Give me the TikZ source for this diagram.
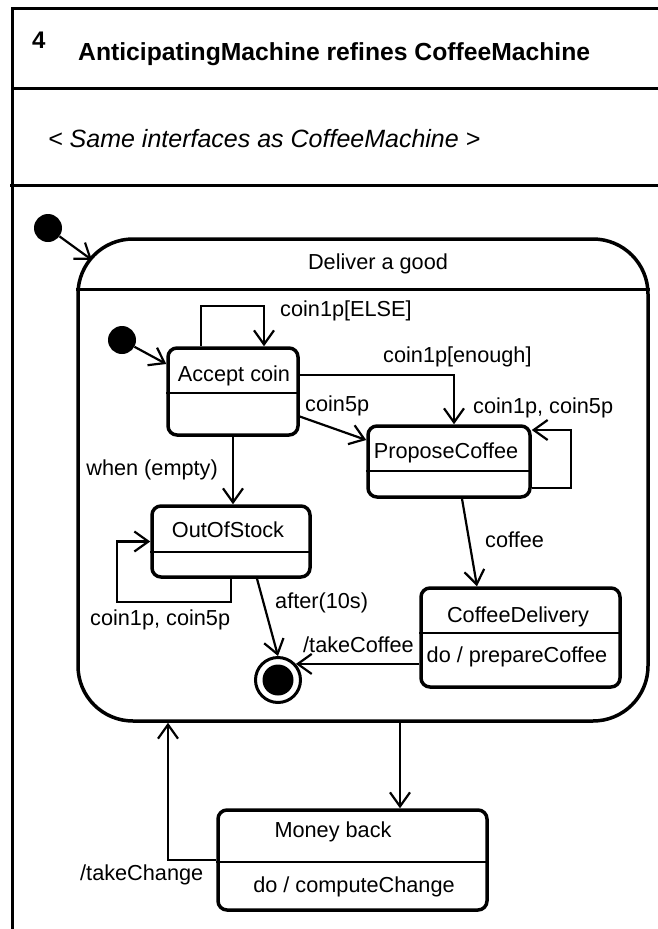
\documentclass[tikz,border=0pt]{standalone}
\usepackage{fontspec}
\setmainfont{Liberation Sans}
\usetikzlibrary{arrows.meta}

\tikzset{
  statebox/.style={draw, line width=3.5pt, rounded corners=9pt, inner sep=0pt},
  trans/.style={line width=2.2pt, -{Straight Barb[length=14pt,width=20pt,line width=2.2pt]}},
  lbl/.style={inner sep=0pt, font=\fontsize{21.7}{26}\selectfont},
  initdot/.style={circle, fill, inner sep=0pt, minimum size=28pt},
}

\begin{document}
\begin{tikzpicture}[x=1pt,y=-1pt]

  \useasboundingbox (0,0) rectangle (657,929);

  % Frame and header compartments
  \draw[line width=3pt] (12,929) -- (12,8) -- (660,8);
  \draw[line width=3pt] (12,88) -- (660,88);
  \draw[line width=3pt] (10,185) -- (660,185);
  \node[inner sep=0pt, anchor=base west, font=\fontsize{24}{28}\selectfont\bfseries] (number) at (32,48) {4};
  \node[inner sep=0pt, anchor=base west, font=\fontsize{24.7}{28}\selectfont\bfseries] (title) at (78,60)
    {AnticipatingMachine refines CoffeeMachine};
  \node[inner sep=0pt, anchor=base west, font=\fontsize{25}{28}\selectfont\itshape] (interfaces) at (48,147)
    {< Same interfaces as CoffeeMachine >};

  % Superstate
  \node[draw, line width=3.5pt, rounded corners=55pt, inner sep=0pt,
        minimum width=570pt, minimum height=482pt] (deliver) at (363,480) {};
  \draw[line width=3pt] (deliver.west |- 0,289) -- (deliver.east |- 0,289);
  \node[lbl] (delivertxt) at (378,264) {Deliver a good};

  \node[initdot] (start) at (48,228) {};
  \coordinate (deliverentry) at (92,260);
  \draw[trans] (start) -- (deliverentry);

  % States
  \node[statebox, minimum width=130pt, minimum height=87pt] (acceptcoin) at (233,391.5) {};
  \draw[line width=2.2pt] (acceptcoin.west |- 0,393) -- (acceptcoin.east |- 0,393);
  \node[lbl] (accepttxt) at (234,376) {Accept coin};

  \node[statebox, minimum width=162pt, minimum height=71pt] (proposecoffee) at (449,461.5) {};
  \draw[line width=2.2pt] (proposecoffee.west |- 0,471) -- (proposecoffee.east |- 0,471);
  \node[lbl] (proposetxt) at (446,453) {ProposeCoffee};

  \node[statebox, minimum width=158pt, minimum height=71pt] (outofstock) at (231,541.5) {};
  \draw[line width=2.2pt] (outofstock.west |- 0,552) -- (outofstock.east |- 0,552);
  \node[lbl] (outtxt) at (228,530) {OutOfStock};

  \node[statebox, minimum width=199pt, minimum height=99pt] (coffeedelivery) at (520.5,637.5) {};
  \draw[line width=2.2pt] (coffeedelivery.west |- 0,633) -- (coffeedelivery.east |- 0,633);
  \node[lbl] (deliverytxt) at (518,617) {CoffeeDelivery};
  \node[lbl] (deliverydo) at (517,657) {do / prepareCoffee};

  \node[statebox, minimum width=269pt, minimum height=100pt] (moneyback) at (352.5,860) {};
  \draw[line width=2.2pt] (moneyback.west |- 0,862) -- (moneyback.east |- 0,862);
  \node[lbl] (moneytxt) at (333,832) {Money back};
  \node[lbl] (moneydo) at (354,887) {do / computeChange};

  \node[circle, draw, line width=3pt, inner sep=0pt, minimum size=45pt] (final) at (278,680) {};
  \node[circle, fill, inner sep=0pt, minimum size=31pt] (finaldot) at (final) {};

  % Transitions
  \node[initdot] (innerstart) at (122,340) {};
  \draw[trans] (innerstart) -- ([yshift=27.5pt]acceptcoin.west);

  \draw[trans] ([xshift=-32pt]acceptcoin.north) |- ([xshift=31pt,yshift=40pt]acceptcoin.north)
    -- ([xshift=31pt]acceptcoin.north); % Self loop
  \node[lbl, anchor=west] (elselbl) at (280,311) {coin1p[ELSE]};

  \draw[trans] ([yshift=16.5pt]acceptcoin.east) -| ([xshift=5pt]proposecoffee.north);
  \node[lbl, anchor=west] (enoughlbl) at (383,357) {coin1p[enough]};

  \draw[trans] ([yshift=-25pt]acceptcoin.east) -- ([yshift=21.5pt]proposecoffee.west);
  \node[lbl, anchor=west] (fivelbl) at (305,406) {coin5p};

  \draw[trans] ([yshift=-26.5pt]proposecoffee.east) -- ++(39,0) |- ([yshift=31.5pt]proposecoffee.east); % Self loop
  \node[lbl, anchor=west] (proposelbl) at (473,408) {coin1p, coin5p};

  \draw[trans] (acceptcoin.south) -- (acceptcoin.south |- outofstock.north);
  \node[lbl, anchor=east] (emptylbl) at (218,470) {when (empty)};

  \draw[trans] (outofstock.south) -- ++(0,23) -| ([xshift=-33pt]outofstock.west) -- (outofstock.west); % Self loop
  \node[lbl, anchor=west] (stocklbl) at (90,620) {coin1p, coin5p};

  \draw[trans] ([xshift=26pt]outofstock.south) -- (final.north);
  \node[lbl, anchor=west] (afterlbl) at (275,603) {after(10s)};

  \draw[trans] ([xshift=13pt]proposecoffee.south) -- ([xshift=-43.5pt]coffeedelivery.north);
  \node[lbl, anchor=west] (coffeelbl) at (485,540) {coffee};

  \draw[trans] (coffeedelivery.west |- final.42) -- (final.42);
  \node[lbl, anchor=west] (takecoffeelbl) at (303,645) {/takeCoffee};

  \coordinate (moneyin) at ([xshift=47.5pt]moneyback.north);
  \draw[trans] (deliver.south -| moneyin) -- (moneyin);

  \draw[trans] (moneyback.west) -| ([xshift=-195pt]deliver.south);
  \node[lbl, anchor=west] (changelbl) at (80,875) {/takeChange};

\end{tikzpicture}
\end{document}
